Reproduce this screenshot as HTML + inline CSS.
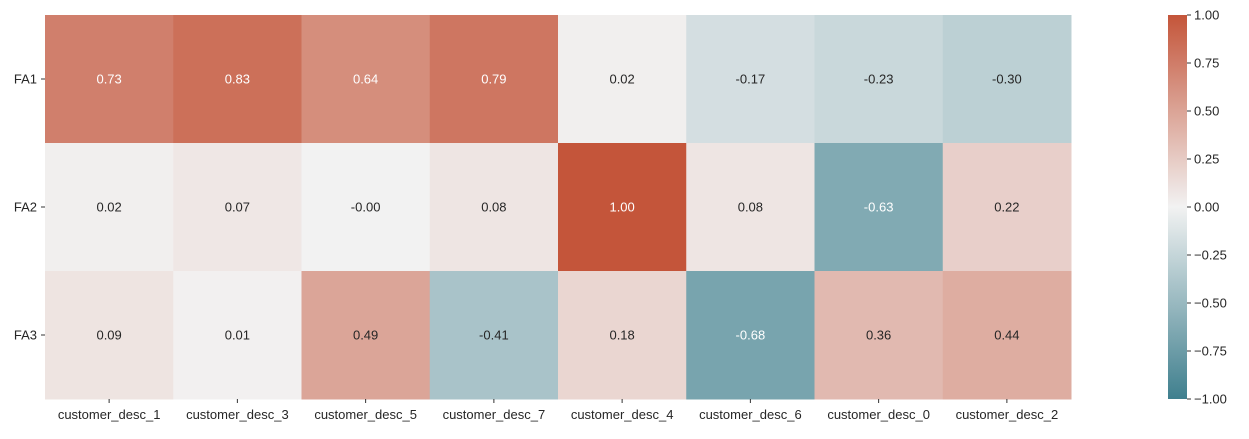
<!DOCTYPE html>
<html><head><meta charset="utf-8"><style>
body{margin:0;background:#fff;font-family:"Liberation Sans",sans-serif;}
svg text{font-family:"Liberation Sans",sans-serif;font-size:13px;}
</style></head><body>
<svg id="chart" width="1249" height="434"></svg>
<script>
const rows=["FA1","FA2","FA3"];
const cols=["customer_desc_1","customer_desc_3","customer_desc_5","customer_desc_7","customer_desc_4","customer_desc_6","customer_desc_0","customer_desc_2"];
const fa1=[0.73,0.83,0.64,0.79,0.02,-0.17,-0.23,-0.30];
const fa2=[0.02,0.07,-0.001,0.08,1.00,0.08,-0.63,0.22];
const fa3=[0.09,0.01,0.49,-0.41,0.18,-0.68,0.36,0.44];
const values=[fa1,fa2,fa3];
const cbTicks=[1.00,0.75,0.50,0.25,0.00,-0.25,-0.50,-0.75,-1.00];

const NS="http://www.w3.org/2000/svg";
const svg=document.getElementById('chart');
const X0=45,X1=1071,Y0=15,Y1=399;
const cw=(X1-X0)/cols.length, rh=(Y1-Y0)/rows.length;
const neg=[63,127,142],mid=[242,242,242],pos=[196,85,58];
function color(v){
  const t=Math.max(-1,Math.min(1,v));const e=t<0?neg:pos;const a=Math.abs(t);
  const c=mid.map((m,i)=>Math.round(m+(e[i]-m)*a));
  return `rgb(${c[0]},${c[1]},${c[2]})`;
}
function fmt(v){const s=v.toFixed(2);return (v<0&&s==="0.00")?"-0.00":s;}
function el(tag,attrs,text){const e=document.createElementNS(NS,tag);for(const k in attrs)e.setAttribute(k,attrs[k]);if(text!==undefined)e.textContent=text;svg.appendChild(e);return e;}
const xPos=i=>X0+i*cw, yPos=j=>Y0+j*rh;
values.forEach((row,j)=>row.forEach((v,i)=>{
  const r=el('rect',{x:xPos(i),y:yPos(j),width:cw+0.5,height:rh+0.5,fill:color(v)});
  
  
  const t=el('text',{x:xPos(i)+cw/2,y:yPos(j)+rh/2+4.5,'text-anchor':'middle',fill:Math.abs(v)>0.6?'#fff':'#262626'},fmt(v));
  
  
}));
rows.forEach((r,j)=>{
  el('line',{x1:X0-4,x2:X0,y1:yPos(j)+rh/2,y2:yPos(j)+rh/2,stroke:'#333'});
  const t=el('text',{x:X0-8,y:yPos(j)+rh/2+4.5,'text-anchor':'end',fill:'#262626'},r);
  
  
});
cols.forEach((c,i)=>{
  el('line',{x1:xPos(i)+cw/2,x2:xPos(i)+cw/2,y1:Y1,y2:Y1+4,stroke:'#333'});
  const t=el('text',{x:xPos(i)+cw/2,y:Y1+20,'text-anchor':'middle',fill:'#262626'},c);
  
  
});
const CX=1168,CW=19;
const defs=el('defs',{});
const g=document.createElementNS(NS,'linearGradient');g.setAttribute('id','cb');g.setAttribute('x1','0');g.setAttribute('y1','0');g.setAttribute('x2','0');g.setAttribute('y2','1');
for(let k=0;k<=20;k++){const v=1-k/10;const s=document.createElementNS(NS,'stop');s.setAttribute('offset',(k/20));s.setAttribute('stop-color',color(v));g.appendChild(s);}
defs.appendChild(g);
const cb=el('rect',{x:CX,y:Y0,width:CW,height:Y1-Y0,fill:'url(#cb)'});


const cy=v=>Y0+(1-v)/2*(Y1-Y0);
cbTicks.forEach(v=>{
  el('line',{x1:CX+CW,x2:CX+CW+4,y1:cy(v),y2:cy(v),stroke:'#333'});
  const t=el('text',{x:CX+CW+7,y:cy(v)+4.5,fill:'#262626'},v.toFixed(2).replace('-','\u2212'));
  
  
});
</script>
</body></html>
